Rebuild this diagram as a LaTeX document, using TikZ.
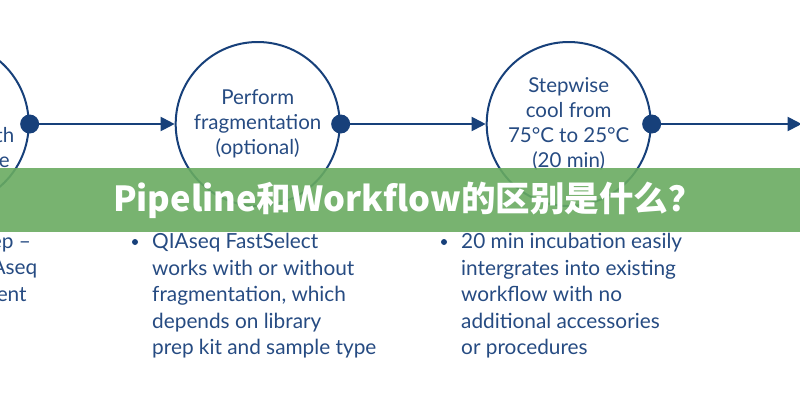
\documentclass[tikz,border=0pt]{standalone}
\usepackage{fontspec}
\setmainfont{Lato}
\newfontfamily\cjkfont{Noto Sans CJK SC}
\usepackage{tikz}
\usetikzlibrary{arrows.meta,positioning}
\definecolor{qblue}{HTML}{17407A}
\definecolor{qtext}{HTML}{264B82}
\definecolor{qgreen}{HTML}{69AB61}
\tikzset{
 stepcircle/.style={circle,draw=qblue,line width=2pt,minimum size=164pt,inner sep=0pt,
   align=center,text=qtext,font=\fontsize{20.5}{25}\selectfont},
 joint/.style={circle,fill=qblue,minimum size=19pt,inner sep=0pt},
 arrow/.style={-{Triangle[length=14pt,width=14pt]},line width=2pt,draw=qblue},
 bullet/.style={circle,fill=qblue,minimum size=6pt,inner sep=0pt},
 listtext/.style={align=left,anchor=north west,inner sep=0pt,text=qtext,
   font=\fontsize{20.8}{26.5}\selectfont},
 banner/.style={fill=qgreen,fill opacity=0.9,minimum width=800pt,minimum height=64pt,inner sep=0pt},
 titletext/.style={text=white,font=\cjkfont\bfseries\fontsize{34.5}{34.5}\selectfont}
}
\begin{document}
\begin{tikzpicture}[x=1pt,y=-1pt,node distance=145pt]
 \useasboundingbox (0,0) rectangle (800,400);
 \node[stepcircle] (mix) at (-54,124) {Add\\QIAseq\\FastSelect with\\RNA template};
 \node[stepcircle,right=of mix] (frag) {Perform\\fragmentation\\(optional)};
 \node[stepcircle,right=of frag] (cool) {Stepwise\\cool from\\75°C to 25°C\\(20 min)};
 \node[stepcircle,right=150pt of cool] (next) {};
 \node[joint] (j1) at (mix.east) {};
 \node[joint] (j2) at (frag.east) {};
 \node[joint] (j3) at (cool.east) {};
 \draw[arrow] (j1)--(frag.west);
 \draw[arrow] (j2)--(cool.west);
 \draw[arrow] (j3)--(next.west);
 % notes under the steps
 \node[bullet] (b0) at (-87,242) {};
 \node[listtext] (n0) at (-70,233) {One step --\\add QIAseq\\by reagent\\buffer};
 \node[bullet] (b1) at (135,242) {};
 \node[listtext] (n1) at (152,233) {QIAseq FastSelect\\works with or without\\fragmentation, which\\depends on library\\prep kit and sample type};
 \node[bullet] (b2) at (444,242) {};
 \node[listtext] (n2) at (461,233) {20 min incubation easily\\intergrates into existing\\workflow with no\\additional accessories\\or procedures};
 % overlay band
 \node[banner] (band) at (400,200) {};
 \node[titletext,xshift=8pt] (title) at (band) {Pipeline和Workflow的区别是什么？};
\end{tikzpicture}
\end{document}
